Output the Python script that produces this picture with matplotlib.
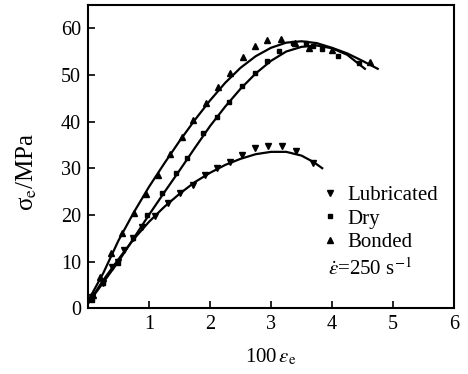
import matplotlib.pyplot as plt
import numpy as np

plt.rcParams['font.family'] = ['Liberation Serif', 'DejaVu Serif']
plt.rcParams['mathtext.fontset'] = 'stix'

# measured points (100*strain, stress MPa)
lub_x = [0.07, 0.25, 0.39, 0.49, 0.59, 0.74, 0.89, 1.10, 1.31, 1.51, 1.72, 1.92,
         2.11, 2.33, 2.52, 2.74, 2.95, 3.18, 3.41, 3.69]
lub_y = [2.4, 5.4, 8.8, 9.9, 12.4, 15.0, 17.4, 19.7, 22.5, 24.6, 26.4, 28.5,
         30.0, 31.3, 32.8, 34.3, 34.7, 34.7, 33.6, 31.1]

dry_x = [0.07, 0.25, 0.49, 0.74, 0.97, 1.21, 1.44, 1.62, 1.89, 2.11, 2.31, 2.52,
         2.74, 2.93, 3.13, 3.36, 3.57, 3.69, 3.84, 4.10, 4.45]
dry_y = [1.8, 5.3, 9.6, 15.0, 19.9, 24.6, 28.9, 32.1, 37.5, 40.9, 44.1, 47.6,
         50.3, 52.9, 55.1, 56.8, 56.8, 56.1, 55.5, 54.0, 52.6]

bond_x = [0.08, 0.20, 0.38, 0.56, 0.75, 0.95, 1.15, 1.34, 1.54, 1.72, 1.93, 2.13,
          2.33, 2.54, 2.74, 2.93, 3.16, 3.39, 3.62, 4.00, 4.62]
bond_y = [2.8, 6.6, 11.8, 16.1, 20.4, 24.4, 28.5, 33.0, 36.6, 40.3, 43.9, 47.4,
          50.4, 53.8, 56.1, 57.4, 57.6, 56.8, 55.7, 55.3, 52.7]

# fitted curves
lub_fx = [0.0, 0.25, 0.5, 0.75, 1.0, 1.25, 1.5, 1.75, 2.0, 2.25, 2.5, 2.75, 3.0,
          3.25, 3.5, 3.7, 3.84]
lub_fy = [1.0, 6.0, 10.5, 14.8, 18.5, 21.7, 24.5, 27.0, 29.0, 30.7, 32.0, 33.0,
          33.5, 33.5, 32.7, 31.3, 30.0]

dry_fx = [0.0, 0.25, 0.5, 0.75, 1.0, 1.25, 1.5, 1.75, 2.0, 2.25, 2.5, 2.75, 3.0,
          3.25, 3.5, 3.75, 4.0, 4.25, 4.54]
dry_fy = [1.0, 5.5, 10.0, 15.0, 20.0, 24.8, 29.5, 34.3, 39.0, 43.2, 47.0, 50.3,
          53.0, 55.0, 56.0, 56.3, 55.7, 54.3, 51.3]

bond_fx = [0.0, 0.25, 0.5, 0.75, 1.0, 1.25, 1.5, 1.75, 2.0, 2.25, 2.5, 2.75, 3.0,
           3.25, 3.5, 3.75, 4.0, 4.25, 4.5, 4.75]
bond_fy = [1.5, 7.5, 14.5, 20.5, 26.0, 31.0, 35.8, 40.3, 44.5, 48.3, 51.5, 54.0,
           55.8, 56.9, 57.2, 56.8, 55.8, 54.6, 53.0, 51.3]

fig = plt.figure(figsize=(4.68, 3.74), dpi=100)
ax = fig.add_axes([0.188, 0.176, 0.782, 0.811])

ax.plot(lub_fx, lub_fy, '-', color='black', lw=1.6)
ax.plot(dry_fx, dry_fy, '-', color='black', lw=1.6)
ax.plot(bond_fx, bond_fy, '-', color='black', lw=1.6)

ax.plot(lub_x, lub_y, 'v', color='black', ms=4, ls='none', label='Lubricated')
ax.plot(dry_x, dry_y, 's', color='black', ms=3.2, ls='none', label='Dry')
ax.plot(bond_x, bond_y, '^', color='black', ms=4, ls='none', label='Bonded')

ax.set_xlim(0, 6)
ax.set_ylim(0, 65)
ax.set_xticks([1, 2, 3, 4, 5, 6])
ax.set_yticks([0, 10, 20, 30, 40, 50, 60])
ax.tick_params(direction='in', length=5, width=1.2, labelsize=14.5, pad=5)
for s in ax.spines.values():
    s.set_linewidth(1.5)

ax.set_xlabel(r'100$\,\varepsilon_{\mathrm{e}}$', fontsize=15, labelpad=9)
ax.set_ylabel(r'σ$_{\mathrm{e}}$/MPa', fontsize=18)
ax.yaxis.set_label_coords(-0.135, 0.45)

leg = ax.legend(loc='upper left', bbox_to_anchor=(0.64, 0.405), frameon=False,
                fontsize=15, handlelength=0.7, handletextpad=0.5,
                labelspacing=0.2, borderpad=0, borderaxespad=0)
ax.text(0.655, 0.13, r'$\dot{\varepsilon}$=250 s$^{-1}$', transform=ax.transAxes,
        fontsize=15, va='center')

plt.savefig('out.png', dpi=100)
